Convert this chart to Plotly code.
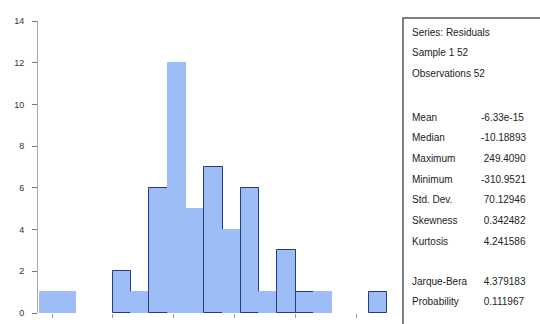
import plotly.graph_objects as go

# Histogram of regression residuals (bin width 30, starting at -320)
bin_start = -320
bin_width = 30
counts = [1, 1, 0, 0, 2, 1, 6, 12, 5, 7, 4, 6, 1, 3, 1, 1, 0, 0, 1]
outlined = [4, 6, 9, 11, 13, 14, 18]

header_lines = ["Series: Residuals", "Sample 1 52", "Observations 52"]
stat_names = ["Mean", "Median", "Maximum", "Minimum", "Std. Dev.", "Skewness", "Kurtosis"]
stat_values = ["-6.33e-15", "-10.18893", " 249.4090", "-310.9521", " 70.12946", " 0.342482", " 4.241586"]
test_names = ["Jarque-Bera", "Probability"]
test_values = [" 4.379183", " 0.111967"]

centers = [bin_start + bin_width * (i + 0.5) for i in range(len(counts))]
line_cols = ["#2a3a78" if i in outlined else "#9dbdf7" for i in range(len(counts))]
line_w = [0 if c == 0 else 1 for c in counts]

fig = go.Figure()
fig.add_trace(go.Bar(
    x=centers, y=counts, width=bin_width,
    marker=dict(color="#9dbdf7", line=dict(color=line_cols, width=line_w)),
    hoverinfo="skip",
))

W, H = 540, 324
L, R, T, B = 38, 145, 21, 6
PW, PH = W - L - R, H - T - B

fig.update_layout(
    width=W, height=H,
    margin=dict(l=L, r=R, t=T, b=B),
    paper_bgcolor="white", plot_bgcolor="white",
    showlegend=False, bargap=0,
    font=dict(family="Liberation Sans, Arial, sans-serif", size=10, color="#222"),
    xaxis=dict(range=[-323, 263], showgrid=False, zeroline=False,
               showticklabels=False, ticks="outside", ticklen=4,
               tickcolor="#999", dtick=100, tick0=-300,
               showline=False),
    yaxis=dict(range=[0, 14], dtick=2, showgrid=False, zeroline=False,
               showline=True, linecolor="#aaa", linewidth=1,
               ticks="outside", ticklen=5, tickcolor="#777",
               ticklabelstandoff=6,
               tickfont=dict(size=9, color="#333")),
)


def px_x(px):
    return (px - L) / PW


def px_y(py):
    return (H - B - py) / PH


# statistics box frame
fig.add_shape(type="rect", xref="paper", yref="paper",
              x0=px_x(403), x1=px_x(560), y0=px_y(340), y1=px_y(18),
              line=dict(color="#555", width=1.5), fillcolor="rgba(0,0,0,0)")


def put(text, px, py):
    fig.add_annotation(text=text, xref="paper", yref="paper",
                       x=px_x(px), y=px_y(py), xanchor="left", yanchor="middle",
                       showarrow=False, font=dict(size=10, color="#222"))


for i, t in enumerate(header_lines):
    put(t, 410, 33 + i * 20.5)
for i, (n, v) in enumerate(zip(stat_names, stat_values)):
    put(n, 410, 119 + i * 21)
    put(v, 479, 119 + i * 21)
for i, (n, v) in enumerate(zip(test_names, test_values)):
    put(n, 410, 286 + i * 20.5)
    put(v, 479, 286 + i * 20.5)

fig.write_html("out.html")
